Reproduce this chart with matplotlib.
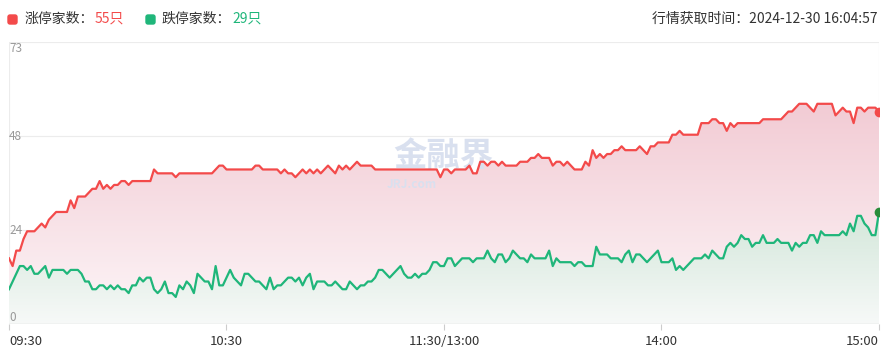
import numpy as np
import matplotlib
matplotlib.use("Agg")
import matplotlib.pyplot as plt
from matplotlib.colors import to_rgb
from matplotlib.patches import FancyBboxPatch
from matplotlib.transforms import IdentityTransform

plt.rcParams['font.family'] = ['Noto Sans CJK SC', 'DejaVu Sans']

# minute-by-minute counts, 09:30 -> 11:30 (121 points) and 13:01 -> 15:00 (120 points)
up_am = [17, 15, 19, 19, 22, 24, 24, 24, 25, 26,
         25, 27, 28, 29, 29, 29, 29, 32, 30, 33,
         33, 33, 34, 35, 35, 37, 35, 36, 35, 36,
         36, 37, 37, 36, 37, 37, 37, 37, 37, 37,
         40, 39, 39, 39, 39, 39, 38, 39, 39, 39,
         39, 39, 39, 39, 39, 39, 39, 40, 41, 41,
         40, 40, 40, 40, 40, 40, 40, 40, 41, 41,
         40, 40, 40, 40, 40, 39, 40, 39, 39, 38,
         39, 40, 39, 40, 39, 40, 39, 40, 41, 40,
         39, 41, 40, 41, 40, 41, 42, 41, 41, 41,
         41, 40, 40, 40, 40, 40, 40, 40, 40, 40,
         40, 40, 40, 40, 40, 40, 40, 40, 40, 38,
         40]
up_pm = [40, 39, 40, 40, 40, 40, 41, 39, 39, 42,
         42, 41, 42, 42, 41, 42, 41, 41, 41, 41,
         42, 42, 42, 43, 43, 44, 43, 43, 43, 41,
         42, 42, 41, 42, 41, 40, 40, 40, 42, 41,
         45, 43, 44, 43, 44, 44, 45, 45, 46, 45,
         45, 45, 45, 46, 45, 44, 46, 46, 47, 47,
         47, 47, 49, 49, 50, 49, 49, 49, 49, 49,
         52, 52, 52, 53, 53, 52, 52, 50, 52, 51,
         52, 52, 52, 52, 52, 52, 52, 53, 53, 53,
         53, 53, 53, 54, 55, 55, 56, 57, 57, 57,
         56, 55, 57, 57, 57, 57, 57, 54, 55, 56,
         55, 55, 52, 56, 56, 55, 56, 56, 56, 55]

down_am = [9, 11, 13, 15, 15, 14, 15, 13, 13, 14,
           15, 12, 14, 14, 14, 14, 13, 14, 14, 14,
           13, 11, 11, 9, 9, 10, 10, 9, 10, 9,
           10, 9, 9, 8, 10, 10, 12, 11, 12, 12,
           9, 8, 9, 11, 8, 8, 7, 10, 9, 11,
           10, 8, 13, 12, 11, 11, 9, 15, 10, 10,
           12, 14, 12, 11, 10, 13, 13, 12, 11, 11,
           10, 9, 12, 9, 10, 10, 11, 12, 12, 11,
           12, 10, 12, 13, 9, 11, 11, 11, 10, 10,
           11, 10, 9, 9, 11, 10, 9, 10, 10, 11,
           11, 12, 14, 14, 13, 12, 13, 14, 15, 13,
           12, 12, 13, 12, 13, 13, 14, 16, 16, 15,
           15]
down_pm = [17, 17, 15, 16, 17, 17, 17, 16, 17, 17,
           17, 19, 17, 16, 18, 18, 16, 17, 19, 18,
           17, 17, 16, 18, 17, 17, 17, 17, 19, 15,
           17, 16, 16, 16, 16, 15, 16, 16, 15, 15,
           15, 20, 18, 18, 18, 17, 17, 17, 16, 18,
           19, 16, 18, 18, 17, 16, 17, 18, 19, 16,
           16, 16, 17, 14, 15, 14, 15, 16, 17, 17,
           17, 18, 17, 19, 18, 17, 17, 20, 21, 20,
           21, 23, 22, 22, 20, 21, 21, 23, 21, 21,
           21, 22, 21, 21, 21, 19, 21, 20, 21, 21,
           23, 23, 21, 24, 23, 23, 23, 23, 23, 24,
           23, 26, 24, 28, 28, 26, 25, 23, 23, 29]

tick_pos = [0, 60, 120, 180, 240]
tick_labels = ['09:30', '10:30', '11:30/13:00', '14:00', '15:00']
y_max = 73
y_labels = ['0', '24', '48', '73']

RED = '#f34a4a'
GREEN = '#1fb67a'

up = np.array(up_am + up_pm)
down = np.array(down_am + down_pm)
x = np.arange(len(up))


def gradient_fill(ax, xs, ys, top, bottom, z):
    poly = ax.fill_between(xs, ys, 0, color='none', lw=0)
    n = 256
    t = np.linspace(0, 1, n)[:, None]
    c0 = np.array(to_rgb(bottom))
    c1 = np.array(to_rgb(top))
    img = (c0 + (c1 - c0) * t).reshape(n, 1, 3)
    im = ax.imshow(img, extent=[xs[0], xs[-1], 0, max(ys)], origin='lower',
                   aspect='auto', zorder=z, interpolation='bilinear')
    im.set_clip_path(poly.get_paths()[0], transform=ax.transData)


fig = plt.figure(figsize=(8.87, 3.52), dpi=100)
ax = fig.add_axes([9 / 887, 1 - 324 / 352, 870 / 887, 282 / 352])

gradient_fill(ax, x, up, '#f2cbd4', '#fdf6f8', 1)
gradient_fill(ax, x, down, '#d3e7da', '#f7f9f8', 2)

# grid lines (axis split in thirds)
for v in [y_max / 3, 2 * y_max / 3, y_max]:
    ax.axhline(v, color='#ececec', lw=0.8, zorder=0.5)
ax.axhline(0, color='#dcdcdc', lw=1.0, zorder=3)
ax.axvline(0, color='#ececec', lw=0.8, zorder=0.5)
ax.axvline(240, color='#ececec', lw=0.8, zorder=0.5)

# watermark
ax.text(0.499, 0.59, '金融界', transform=ax.transAxes, ha='center', va='center',
        fontsize=24, fontweight='bold', color='#d9e0ef', zorder=2.5)
ax.text(0.463, 0.495, 'JRJ.com', transform=ax.transAxes, ha='center', va='center',
        fontsize=8.5, fontweight='bold', color='#d9e0ef', zorder=2.5)

ax.plot(x, up, color=RED, lw=1.6, zorder=4)
ax.plot(x, down, color=GREEN, lw=1.6, zorder=4)
ax.plot(x[-1], up[-1], 'o', color=RED, ms=6, zorder=5)
ax.plot(x[-1], down[-1], 'o', color='#2a8c3a', ms=6, zorder=5)

ax.set_xlim(0, 240)
ax.set_ylim(0, y_max)
for s in ax.spines.values():
    s.set_visible(False)
ax.set_yticks([])
ax.set_xticks(tick_pos)
ax.set_xticklabels(tick_labels)
ax.tick_params(axis='x', length=4, color='#cccccc', labelcolor='#333333',
               labelsize=9.5, pad=4)
lbls = ax.get_xticklabels()
lbls[0].set_ha('left')
lbls[-1].set_ha('right')

# y labels drawn inside the plot
ys = [0, y_max / 3, 2 * y_max / 3, y_max]
vas = ['bottom', 'center', 'center', 'top']
for v, lab, va in zip(ys, y_labels, vas):
    ax.text(0.0, v, lab, transform=ax.get_yaxis_transform(), ha='left', va=va,
            fontsize=8.5, color='#999999', zorder=6)

# header legend (small rounded squares, pixel coords)
for x0, c in [(9, RED), (147, GREEN)]:
    fig.patches.append(FancyBboxPatch((x0, 352 - 23), 7, 7,
                                      boxstyle='round,pad=1,rounding_size=2',
                                      transform=IdentityTransform(), color=c))
fig.text(25 / 887, 1 - 19 / 352, '涨停家数：', ha='left', va='center',
         fontsize=10, color='#333333')
fig.text(95 / 887, 1 - 19 / 352, '%d只' % up[-1], ha='left', va='center',
         fontsize=10, color=RED)
fig.text(162 / 887, 1 - 19 / 352, '跌停家数：', ha='left', va='center',
         fontsize=10, color='#333333')
fig.text(232 / 887, 1 - 19 / 352, '%d只' % down[-1], ha='left', va='center',
         fontsize=10, color=GREEN)
fig.text(878 / 887, 1 - 19 / 352, '行情获取时间：2024-12-30 16:04:57', ha='right',
         va='center', fontsize=10, color='#333333')

fig.savefig('out.png', dpi=100, facecolor='white')
